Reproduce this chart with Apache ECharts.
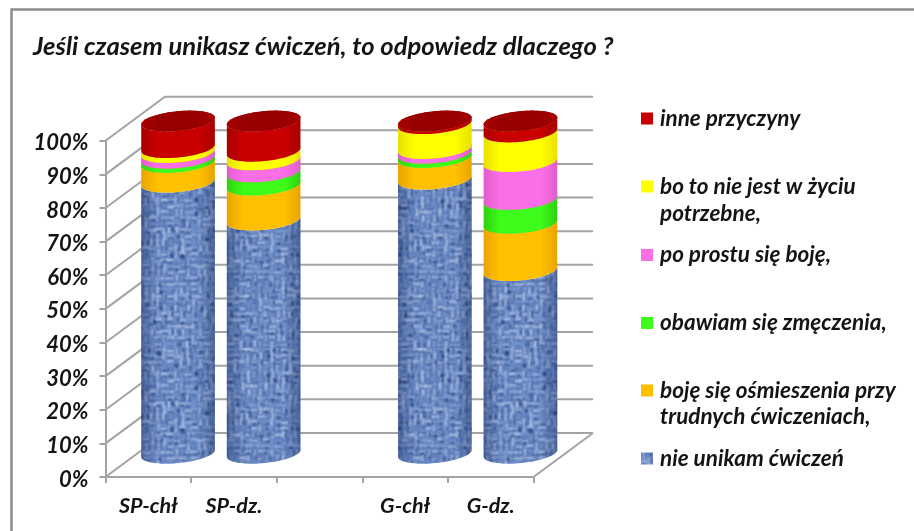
<!DOCTYPE html>
<html><head><meta charset="utf-8">
<style>html,body{margin:0;padding:0;background:#fff}#c{width:914px;height:531px}</style>
<script src="https://cdn.jsdelivr.net/npm/echarts@6/dist/echarts.min.js"></script>
</head><body><div id="c"></div>
<script>
const categories = ['SP-chł', 'SP-dz.', '', 'G-chł', 'G-dz.'];
const yTicks = [0, 10, 20, 30, 40, 50, 60, 70, 80, 90, 100];
const nieUnikam = [81.6, 70.2, null, 82.5, 55];
const osmieszenia = [5.9, 10.5, null, 6.5, 14.2];
const zmeczenia = [1.3, 4, null, 1.3, 7.2];
const boje = [1.7, 3.6, null, 1.4, 11.4];
const potrzebne = [1.5, 2.6, null, 7.5, 8.9];
const inne = [8, 9.1, null, 0.8, 3.3];
const seriesNames = ['nie unikam ćwiczeń', 'boję się ośmieszenia przy trudnych ćwiczeniach,', 'obawiam się zmęczenia,', 'po prostu się boję,', 'bo to nie jest w życiu potrzebne,', 'inne przyczyny'];
const seriesValues = [nieUnikam, osmieszenia, zmeczenia, boje, potrzebne, inne];
const colors = [null, ['#ffc000', '#e8a400'], ['#3dfb1a', '#2fd010'], ['#fb6fe6', '#e25ccd'], ['#ffff00', '#e8e000'], ['#c80000', '#a80000']];
const FONT = 'Lato';
const DEPTH_X = 59.5, DEPTH_Y = -44, RX = 37, RY = 9.8, TILT = 5.7 * Math.PI / 180;
const HEIGHT_SCALE = 0.988, BASE_LIFT = 1.7;

function makeTexture() {
  const cell = 6, n = 29, size = cell * n;
  const cv = document.createElement('canvas');
  cv.width = cv.height = size;
  const c = cv.getContext('2d');
  c.fillStyle = '#6484bf';
  c.fillRect(0, 0, size, size);
  c.filter = 'blur(0.9px)';
  const frac = v => v - Math.floor(v);
  const h = (i, j, k) => frac(Math.sin(i * 127.1 + j * 311.7 + k * 74.7) * 43758.5453);
  const mix = (p, q, t) => 'rgb(' + p.map((v, m) => Math.round(v + (q[m] - v) * t)).join(',') + ')';
  for (let j = 0; j < n; j++) for (let i = 0; i < n; i++) {
    const x = i * cell, y = j * cell;
    const over = h(i, j, 1) > 0.5;
    const dark = mix([28, 52, 112], [72, 104, 168], h(i, j, 3));
    const light = mix([120, 152, 210], [205, 222, 250], h(i, j, 2));
    c.fillStyle = dark;
    c.fillRect(x + h(i, j, 4) * 2, y + h(i, j, 5) * 2, 2 + h(i, j, 6) * 3, 2 + h(i, j, 7) * 3);
    c.fillStyle = light;
    if (over) c.fillRect(x - 1, y + h(i, j, 8) * 2, cell + 2 * h(i, j, 9), 2);
    else c.fillRect(x + h(i, j, 8) * 2, y - 1, 2, cell + 2 * h(i, j, 9));
  }
  return cv;
}
const texture = { image: makeTexture(), repeat: 'repeat' };

function ellipsePoints(cx, cy, from, to, steps) {
  const pts = [];
  for (let k = 0; k <= steps; k++) {
    const t = from + (to - from) * k / steps;
    const x = RX * Math.cos(t), y = RY * Math.sin(t);
    pts.push([cx + x * Math.cos(TILT) + y * Math.sin(TILT), cy - x * Math.sin(TILT) + y * Math.cos(TILT)]);
  }
  return pts;
}
function hGrad(edge, mid) {
  return { type: 'linear', x: 0, y: 0, x2: 1, y2: 0, colorStops: [
    { offset: 0, color: edge }, { offset: 0.22, color: mid }, { offset: 0.78, color: mid }, { offset: 1, color: edge }] };
}
function cylinderRenderer(layer) {
  return function (params, api) {
    const cat = api.value(0);
    const z = api.coord([cat, 0]);
    const a = api.coord([cat, api.value(1)]);
    const b = api.coord([cat, api.value(2)]);
    const cx = a[0] + DEPTH_X / 2;
    const base = z[1] + DEPTH_Y / 2 - BASE_LIFT;
    const y0 = base - (z[1] - a[1]) * HEIGHT_SCALE;
    const y1 = base - (z[1] - b[1]) * HEIGHT_SCALE;
    const lower = ellipsePoints(cx, y0, Math.PI, 0, 40);
    const upper = ellipsePoints(cx, y1, 0, Math.PI, 40);
    const body = lower.concat(upper);
    const top = ellipsePoints(cx, y1, 0, 2 * Math.PI, 72);
    const children = [];
    if (layer === 0) {
      children.push({ type: 'polygon', shape: { points: body }, style: { fill: texture } });
      children.push({ type: 'polygon', shape: { points: body }, style: { fill: hGrad('rgba(20,40,90,0.4)', 'rgba(20,40,90,0)') } });
    } else {
      children.push({ type: 'polygon', shape: { points: top }, style: { fill: colors[layer][1] } });
      children.push({ type: 'polygon', shape: { points: body }, style: { fill: hGrad(colors[layer][1], colors[layer][0]) } });
      if (layer === seriesNames.length - 1) {
        children.push({ type: 'polygon', shape: { points: top }, style: { fill: hGrad('#a80000', '#980000') } });
      }
    }
    return { type: 'group', children };
  };
}
function wallRenderer(params, api) {
  const t = api.value(1);
  const band = api.size([1, 0])[0];
  const l = api.coord([0, t])[0] - band / 2;
  const r = api.coord([categories.length - 1, t])[0] + band / 2;
  const y = api.coord([0, t])[1];
  const line = { stroke: '#a3a3a3', lineWidth: 2, fill: null };
  const kids = [{ type: 'polyline', shape: { points: [[l, y], [l + DEPTH_X, y + DEPTH_Y], [r + DEPTH_X, y + DEPTH_Y]] }, style: line }];
  if (t === 0) kids.push({ type: 'polyline', shape: { points: [[r, y], [r + DEPTH_X, y + DEPTH_Y]] }, style: line });
  return { type: 'group', children: kids };
}

const cumulative = categories.map(() => 0);
const cylinderSeries = seriesNames.map((name, layer) => {
  const data = [];
  seriesValues[layer].forEach((v, i) => {
    if (v == null) return;
    data.push([i, cumulative[i], cumulative[i] + v]);
    cumulative[i] += v;
  });
  return {
    name, type: 'custom', coordinateSystem: 'cartesian2d', clip: false, z: 5 + layer,
    renderItem: cylinderRenderer(layer), data, encode: { x: 0, y: [1, 2] }, silent: true,
    itemStyle: { color: layer === 0 ? '#6b8bc6' : colors[layer][0] }
  };
});

const legendLayout = [
  { name: seriesNames[5], top: 107 },
  { name: seriesNames[4], top: 175 },
  { name: seriesNames[3], top: 243.5 },
  { name: seriesNames[2], top: 311.5 },
  { name: seriesNames[1], top: 379 },
  { name: seriesNames[0], top: 447 }
];
const legendFirstLine = { [seriesNames[4]]: 'bo to nie jest w życiu', [seriesNames[1]]: 'boję się ośmieszenia przy' };
const textStyle = { fontFamily: FONT, fontStyle: 'italic', fontWeight: 'bold', color: '#141414' };

const chart = echarts.init(document.getElementById('c'), null, { renderer: 'canvas' });
chart.setOption({
  animation: false,
  backgroundColor: '#fff',
  title: [
    { text: 'Jeśli czasem unikasz ćwiczeń, to odpowiedz dlaczego ?', left: 33, top: 34, padding: 0,
      textStyle: { ...textStyle, fontSize: 25.6, fontWeight: 'bold' } },
    { text: 'potrzebne,', left: 660, top: 202, padding: 0, textStyle: { ...textStyle, fontSize: 22.5 } },
    { text: 'trudnych ćwiczeniach,', left: 660, top: 405.5, padding: 0, textStyle: { ...textStyle, fontSize: 22.5 } }
  ],
  legend: legendLayout.map(it => ({
    left: 641, top: it.top, padding: 0, itemWidth: 12, itemHeight: 12, icon: 'rect',
    selectedMode: false,
    data: [it.name === seriesNames[0] ? { name: it.name, itemStyle: { color: texture } } : it.name],
    formatter: n => legendFirstLine[n] || n,
    textStyle: { ...textStyle, fontSize: 22.5, padding: [0, 0, 0, 2] }
  })),
  grid: { left: 105.5, right: 914 - 533.5, top: 140.7, bottom: 531 - 477 },
  xAxis: {
    type: 'category', data: categories,
    axisLine: { lineStyle: { color: '#a3a3a3', width: 2 } },
    axisTick: { show: true, length: 6, lineStyle: { color: '#a3a3a3', width: 2 } },
    axisLabel: { ...textStyle, fontSize: 21.5, margin: 18, interval: 0 }
  },
  yAxis: {
    type: 'value', min: 0, max: 100, interval: 10,
    axisLine: { show: true, lineStyle: { color: '#a3a3a3', width: 2 } },
    axisTick: { show: true, length: 6, lineStyle: { color: '#a3a3a3', width: 2 } },
    axisLabel: { ...textStyle, fontSize: 22, margin: 17, verticalAlign: 'top', lineHeight: 5, formatter: '{value}%' },
    splitLine: { show: false }
  },
  graphic: [{ type: 'polyline', z: 0, silent: true, shape: { points: [[11.5, 531], [11.5, 9.5], [914, 9.5]] },
    style: { stroke: '#8c8c8c', lineWidth: 2.5, fill: null } }],
  series: [{
    type: 'custom', coordinateSystem: 'cartesian2d', clip: false, z: 1, silent: true,
    renderItem: wallRenderer, data: yTicks.map(t => [0, t]), encode: { x: 0, y: 1 }
  }].concat(cylinderSeries)
});
</script></body></html>
